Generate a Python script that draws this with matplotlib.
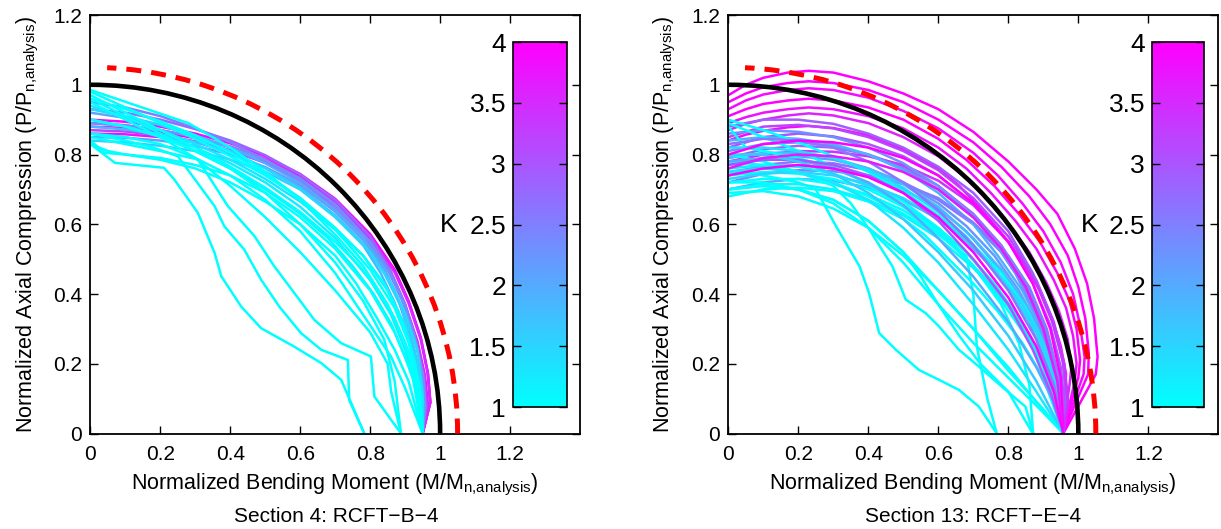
import numpy as np
import matplotlib
matplotlib.use('Agg')
import matplotlib.pyplot as plt
from matplotlib import cm, colors
from matplotlib.patches import Arc

plt.rcParams['font.family'] = ['Liberation Sans', 'DejaVu Sans']

# reference interaction curves: black solid circle, red dashed circle
ref_radius = 1.0
lim_radius = 1.05
lim_start_deg = 87.4

# Section 4: RCFT-B-4
left_k = [4.0, 3.9, 3.8, 3.5, 3.2, 2.8, 2.5, 2.2, 2.0, 1.8,
          1.0, 1.0, 1.1, 1.0, 1.0, 1.0, 1.0, 1.0, 1.0, 1.0,
          1.2, 1.3, 1.0, 1.5, 1.0, 1.0, 2.3, 1.6]
left_m = [
    [0, .1, .2, .3, .4, .5, .6, .7, .8, .87, .91, .945, .965, .972, .95],
    [0, .1, .2, .3, .4, .5, .6, .7, .8, .87, .91, .945, .965, .972, .95],
    [0, .1, .2, .3, .4, .5, .6, .7, .8, .86, .9, .935, .957, .965, .95],
    [0, .1, .2, .3, .4, .5, .6, .7, .8, .87, .91, .945, .965, .972, .95],
    [0, .1, .2, .3, .4, .5, .6, .7, .8, .86, .9, .935, .955, .962, .95],
    [0, .1, .2, .3, .4, .5, .6, .7, .8, .86, .9, .93, .95, .958, .95],
    [0, .1, .2, .3, .4, .5, .6, .7, .8, .85, .89, .925, .945, .955, .95],
    [0, .1, .2, .3, .4, .5, .6, .7, .78, .84, .88, .915, .94, .953, .95],
    [0, .1, .2, .3, .4, .5, .6, .7, .78, .84, .88, .915, .94, .953, .95],
    [0, .1, .2, .3, .4, .5, .6, .7, .78, .83, .87, .91, .935, .95, .95],
    [0, .1, .2, .3, .4, .5, .6, .7, .78, .84, .88, .915, .94, .95],
    [0, .1, .2, .3, .4, .5, .6, .7, .77, .83, .87, .91, .94, .95],
    [0, .1, .2, .3, .4, .5, .6, .68, .75, .81, .86, .9, .935, .95],
    [0, .05, .1, .2, .3, .4, .5, .6, .7, .76, .82, .87, .91, .95],
    [0, .07, .21, .24, .307, .355, .374, .431, .488, .583, .66, .717, .783],
    [0, .1, .18, .25, .355, .383, .44, .488, .54, .602, .66, .736, .74, .783],
    [0, .1, .2, .307, .393, .469, .526, .583, .64, .717, .802, .812, .888],
    [0, .1, .2, .3, .4, .5, .6, .7, .78, .84, .87, .888],
    [0, .1, .2, .3, .4, .5, .6, .7, .76, .82, .86, .9, .95],
    [0, .1, .2, .3, .4, .5, .6, .7, .8, .85, .86, .888],
    [0, .1, .2, .3, .4, .5, .6, .7, .8, .86, .9, .93, .95],
    [0, .1, .2, .3, .4, .5, .6, .7, .78, .85, .9, .93, .95, .95],
    [0, .1, .2, .3, .4, .5, .6, .7, .8, .87, .91, .94, .95],
    [0, .1, .2, .3, .4, .5, .6, .7, .8, .86, .9, .935, .95, .95],
    [0, .04, .1, .2, .3, .4, .5, .6, .7, .8, .87, .92, .95],
    [0, .28, .4, .5, .6, .7, .78, .85, .9, .93, .95],
    [0, .1, .2, .3, .4, .5, .6, .7, .8, .86, .9, .93, .952, .958, .95],
    [0, .1, .2, .3, .4, .5, .6, .7, .78, .84, .89, .925, .945, .95],
]
left_p = [
    [.88, .876, .864, .847, .822, .787, .737, .667, .567, .467, .377, .272, .172, .09, 0],
    [.90, .894, .88, .86, .832, .795, .744, .673, .572, .47, .38, .274, .174, .09, 0],
    [.86, .858, .85, .835, .812, .778, .728, .658, .555, .46, .37, .265, .165, .085, 0],
    [.89, .884, .87, .85, .823, .786, .735, .664, .562, .462, .373, .268, .17, .088, 0],
    [.87, .866, .855, .838, .812, .776, .725, .654, .55, .455, .365, .26, .16, .08, 0],
    [.93, .92, .9, .873, .84, .798, .743, .67, .565, .463, .37, .268, .165, .08, 0],
    [.95, .935, .91, .875, .835, .785, .725, .645, .54, .47, .385, .29, .19, .09, 0],
    [.85, .848, .84, .825, .8, .764, .712, .636, .555, .47, .385, .28, .18, .085, 0],
    [.92, .905, .885, .855, .82, .775, .718, .64, .56, .475, .385, .283, .18, .085, 0],
    [.88, .872, .858, .836, .805, .762, .705, .625, .54, .46, .375, .27, .17, .08, 0],
    [.98, .935, .89, .845, .795, .74, .675, .59, .51, .43, .35, .25, .14, 0],
    [.97, .92, .87, .82, .765, .705, .635, .55, .48, .4, .33, .235, .13, 0],
    [.96, .91, .86, .81, .76, .7, .63, .56, .48, .4, .315, .22, .12, 0],
    [.83, .81, .8, .785, .76, .72, .665, .6, .51, .43, .33, .24, .15, 0],
    [.83, .776, .762, .728, .633, .518, .451, .364, .302, .249, .202, .154, 0],
    [.86, .84, .82, .795, .652, .594, .527, .441, .364, .288, .24, .211, .096, 0],
    [.85, .83, .81, .786, .652, .566, .479, .403, .326, .259, .221, .106, 0],
    [.9, .88, .85, .81, .76, .69, .6, .49, .38, .27, .15, 0],
    [.86, .85, .83, .79, .74, .67, .58, .46, .37, .28, .22, .13, 0],
    [.95, .9, .85, .79, .71, .62, .52, .41, .29, .2, .12, 0],
    [.9, .88, .855, .82, .775, .72, .65, .56, .44, .34, .24, .14, 0],
    [.94, .905, .87, .83, .785, .73, .665, .585, .51, .41, .31, .2, .1, 0],
    [.96, .93, .895, .855, .805, .745, .675, .585, .47, .36, .26, .14, 0],
    [.93, .91, .885, .85, .81, .76, .7, .62, .52, .43, .345, .24, .12, 0],
    [.84, .805, .8, .79, .77, .74, .69, .62, .53, .41, .29, .17, 0],
    [.985, .89, .82, .75, .67, .57, .48, .37, .26, .15, 0],
    [.89, .883, .87, .85, .822, .784, .731, .657, .55, .455, .365, .265, .165, .08, 0],
    [.84, .835, .825, .81, .785, .75, .7, .625, .545, .46, .36, .25, .13, 0],
]

# Section 13: RCFT-E-4 (drawn in list order)
right_k = [4.0, 4.0, 3.9, 4.0, 3.8, 3.6, 3.9,
           3.2, 3.0, 2.8, 2.9, 3.4, 2.6,
           2.4, 2.2, 2.0, 1.9, 2.5, 2.1, 1.8, 2.3,
           1.0, 1.0, 1.0, 1.0, 1.0, 1.0, 1.0, 1.2, 1.4, 1.0, 1.0, 1.1, 1.5,
           1.0, 1.3, 2.0, 3.0, 1.0, 1.6, 2.6, 1.0, 1.0,
           4.0, 3.7, 4.0]
right_m = [
    [0, .05, .1, .17, .23, .3, .4, .5, .6, .7, .8, .88, .94, .99, 1.025, 1.045, 1.055, 1.05, .957],
    [0, .05, .1, .17, .23, .3, .4, .5, .6, .7, .78, .86, .92, .97, 1.0, 1.02, 1.03, 1.028, .955],
    [0, .05, .1, .17, .23, .3, .4, .5, .6, .7, .77, .84, .9, .95, .985, 1.005, 1.018, 1.015, .955],
    [0, .05, .1, .17, .23, .3, .4, .5, .6, .68, .76, .83, .89, .94, .975, .995, 1.005, 1.0, .955],
    [0, .05, .1, .17, .23, .3, .4, .5, .6, .68, .75, .82, .88, .93, .965, .985, .995, .99, .955],
    [0, .05, .1, .17, .23, .3, .4, .5, .6, .67, .74, .8, .86, .91, .945, .97, .98, .975, .955],
    [0, .05, .1, .17, .23, .3, .4, .5, .6, .66, .72, .78, .84, .89, .925, .95, .965, .962, .955],
    [0, .1, .2, .3, .4, .5, .6, .7, .8, .88, .93, .96, .97, .957],
    [0, .1, .2, .3, .4, .5, .6, .7, .8, .87, .92, .95, .96, .957],
    [0, .1, .2, .3, .4, .5, .6, .7, .78, .85, .9, .94, .957],
    [0, .1, .2, .3, .4, .5, .6, .7, .8, .87, .92, .955, .965, .957],
    [0, .1, .2, .3, .4, .5, .6, .7, .8, .88, .93, .96, .97, .957],
    [0, .1, .2, .3, .4, .5, .6, .7, .78, .84, .89, .93, .957],
    [0, .1, .2, .3, .4, .5, .6, .7, .78, .85, .9, .94, .957],
    [0, .1, .2, .3, .4, .5, .6, .68, .76, .83, .89, .93, .957],
    [0, .1, .2, .3, .4, .5, .6, .68, .75, .82, .88, .93, .957],
    [0, .1, .2, .3, .4, .5, .6, .7, .77, .84, .9, .94, .957],
    [0, .1, .2, .3, .4, .5, .6, .7, .8, .86, .91, .945, .957],
    [0, .1, .2, .3, .4, .5, .6, .66, .74, .8, .86, .92, .957],
    [0, .1, .2, .3, .4, .5, .6, .7, .78, .85, .9, .94, .957],
    [0, .1, .2, .3, .4, .5, .6, .7, .76, .82, .88, .93, .957],
    [0, .1, .2, .3, .4, .5, .6, .7, .78, .85, .9, .94, .957],
    [0, .1, .2, .3, .4, .5, .6, .68, .75, .81, .87, .92, .957],
    [0, .05, .1, .2, .3, .4, .5, .6, .68, .76, .83, .9, .957],
    [0, .1, .2, .3, .4, .5, .6, .66, .72, .78, .85, .9, .957],
    [0, .1, .2, .3, .4, .5, .56, .62, .7, .77, .84, .9, .957],
    [0, .1, .2, .25, .308, .375, .402, .431, .479, .545, .602, .659, .716, .767],
    [0, .1, .2, .3, .35, .403, .469, .507, .564, .602, .659, .716, .782, .849, .871],
    [0, .1, .2, .3, .4, .5, .58, .65, .72, .79, .86, .91, .957],
    [0, .1, .2, .3, .4, .5, .6, .68, .75, .82, .88, .93, .957],
    [0, .1, .2, .3, .4, .5, .6, .68, .7, .71, .74, .767],
    [0, .1, .2, .3, .4, .5, .6, .7, .78, .83, .86, .871],
    [0, .1, .2, .3, .4, .5, .6, .7, .78, .85, .91, .957],
    [0, .1, .2, .3, .4, .5, .6, .7, .77, .84, .9, .94, .957],
    [0, .1, .2, .3, .4, .5, .6, .7, .8, .88, .957],
    [0, .1, .2, .3, .4, .5, .6, .7, .8, .88, .957],
    [0, .1, .2, .3, .4, .5, .6, .7, .8, .88, .93, .957],
    [0, .1, .2, .3, .4, .5, .6, .7, .8, .87, .92, .957],
    [0, .1, .2, .3, .4, .5, .6, .7, .8, .9, .957],
    [0, .1, .2, .3, .4, .5, .6, .7, .8, .88, .957],
    [0, .1, .2, .3, .4, .5, .6, .7, .8, .88, .93, .957],
    [0, .1, .2, .3, .4, .5, .6, .7, .8, .9, .957],
    [0, .1, .2, .3, .4, .5, .55, .6, .66, .72, .8, .87],
    [0, .1, .2, .3, .4, .5, .6, .7, .8, .87, .92, .95, .957],
    [0, .1, .2, .3, .4, .5, .6, .7, .78, .85, .9, .94, .957],
    [0, .1, .2, .3, .4, .5, .6, .7, .8, .88, .93, .957],
]
right_p = [
    [.97, 1.0, 1.02, 1.035, 1.04, 1.035, 1.01, .975, .93, .865, .78, .7, .63, .53, .43, .33, .22, .17, 0],
    [.95, .975, .993, 1.005, 1.01, 1.005, .985, .95, .9, .835, .765, .68, .6, .51, .42, .33, .23, .17, 0],
    [.93, .955, .972, .985, .99, .985, .963, .925, .875, .805, .74, .66, .58, .49, .4, .31, .22, .17, 0],
    [.91, .93, .945, .955, .96, .955, .935, .9, .845, .785, .71, .63, .55, .46, .38, .3, .21, .16, 0],
    [.89, .907, .92, .93, .935, .93, .91, .875, .82, .76, .69, .61, .53, .44, .36, .28, .2, .15, 0],
    [.87, .888, .9, .912, .918, .912, .89, .85, .795, .74, .67, .6, .52, .43, .35, .27, .19, .14, 0],
    [.84, .857, .868, .878, .882, .876, .855, .815, .76, .71, .645, .575, .495, .41, .33, .25, .17, .12, 0],
    [.85, .88, .885, .875, .85, .81, .755, .675, .565, .44, .32, .2, .1, 0],
    [.82, .85, .86, .852, .83, .795, .74, .66, .55, .43, .31, .19, .09, 0],
    [.79, .815, .825, .82, .8, .765, .71, .63, .54, .43, .31, .16, 0],
    [.88, .9, .9, .888, .86, .82, .765, .69, .58, .46, .34, .21, .1, 0],
    [.78, .8, .81, .808, .795, .77, .725, .655, .55, .43, .31, .19, .09, 0],
    [.74, .77, .78, .775, .755, .72, .67, .6, .52, .43, .32, .18, 0],
    [.81, .83, .835, .825, .8, .76, .7, .62, .535, .43, .32, .17, 0],
    [.77, .79, .795, .785, .76, .72, .66, .595, .51, .41, .3, .17, 0],
    [.75, .765, .77, .76, .74, .7, .645, .58, .5, .41, .3, .16, 0],
    [.84, .85, .845, .83, .8, .755, .69, .6, .51, .41, .29, .15, 0],
    [.72, .745, .755, .752, .74, .715, .675, .605, .51, .42, .3, .16, 0],
    [.7, .72, .73, .725, .705, .67, .615, .57, .49, .42, .32, .17, 0],
    [.79, .805, .805, .79, .76, .715, .65, .56, .47, .37, .27, .14, 0],
    [.86, .87, .865, .85, .82, .775, .71, .625, .55, .46, .34, .19, 0],
    [.9, .87, .835, .795, .75, .695, .625, .54, .46, .36, .26, .14, 0],
    [.89, .85, .81, .765, .715, .655, .585, .52, .44, .36, .26, .15, 0],
    [.88, .82, .81, .79, .76, .72, .665, .59, .52, .43, .33, .19, 0],
    [.72, .73, .73, .715, .685, .64, .575, .52, .455, .38, .28, .19, 0],
    [.68, .7, .705, .695, .665, .615, .57, .51, .43, .35, .26, .16, 0],
    [.75, .74, .72, .7, .594, .479, .403, .288, .24, .182, .154, .125, .077, 0],
    [.8, .78, .75, .71, .66, .585, .479, .384, .345, .307, .24, .192, .134, .077, 0],
    [.76, .77, .765, .745, .71, .655, .6, .535, .46, .38, .28, .18, 0],
    [.82, .82, .81, .79, .755, .705, .635, .565, .48, .39, .29, .16, 0],
    [.78, .77, .75, .72, .68, .63, .57, .51, .4, .25, .1, 0],
    [.74, .75, .745, .73, .7, .65, .58, .48, .37, .26, .14, 0],
    [.7, .715, .715, .7, .67, .625, .56, .475, .39, .3, .19, 0],
    [.73, .745, .75, .74, .715, .675, .615, .535, .46, .37, .26, .14, 0],
    [.7, .71, .7, .67, .61, .52, .41, .3, .19, .09, 0],
    [.75, .76, .75, .72, .67, .59, .49, .37, .24, .12, 0],
    [.78, .79, .785, .76, .72, .655, .56, .45, .32, .19, .09, 0],
    [.77, .785, .785, .77, .74, .69, .61, .5, .37, .24, .12, 0],
    [.69, .695, .68, .645, .59, .51, .41, .3, .18, .07, 0],
    [.8, .8, .78, .745, .69, .615, .52, .41, .28, .15, 0],
    [.83, .845, .84, .82, .78, .72, .64, .54, .41, .27, .14, 0],
    [.72, .72, .7, .66, .59, .49, .37, .26, .16, .06, 0],
    [.7, .71, .7, .67, .61, .52, .45, .37, .28, .2, .12, 0],
    [.8, .83, .84, .835, .82, .79, .74, .66, .55, .43, .3, .16, 0],
    [.76, .79, .8, .795, .78, .75, .7, .62, .53, .42, .3, .15, 0],
    [.74, .76, .77, .76, .735, .69, .62, .52, .39, .25, .12, 0],
]

cmap = plt.get_cmap('cool')
norm = colors.Normalize(vmin=1, vmax=4)
tick_vals = [0, 0.2, 0.4, 0.6, 0.8, 1, 1.2]
tick_text = ['0', '0.2', '0.4', '0.6', '0.8', '1', '1.2']
k_ticks = [1, 1.5, 2, 2.5, 3, 3.5, 4]


def draw_panel(ax, cax, ks, ms, ps, order, title, title_x):
    for i in order:
        ax.plot(ms[i], ps[i], color=cmap(norm(ks[i])), lw=1.8,
                solid_joinstyle='round', solid_capstyle='round')
    ax.add_patch(Arc((0, 0), 2 * ref_radius, 2 * ref_radius, theta1=0, theta2=90,
                     color='black', lw=3.3, zorder=4))
    ax.add_patch(Arc((0, 0), 2 * lim_radius, 2 * lim_radius, theta1=0, theta2=lim_start_deg,
                     color='red', lw=3.6, linestyle=(0, (3.0, 2.0)), zorder=4))
    ax.set_xlim(0, 1.4)
    ax.set_ylim(0, 1.2)
    ax.set_xticks(tick_vals)
    ax.set_xticklabels(tick_text)
    ax.set_yticks(tick_vals)
    ax.set_yticklabels(tick_text)
    ax.tick_params(direction='in', top=True, right=True, length=6, width=1, labelsize=15)
    ax.tick_params(axis='x', pad=8)
    ax.tick_params(axis='y', pad=6)
    for s in ax.spines.values():
        s.set_linewidth(1.3)
    ax.set_xlabel(r'Normalized Bending Moment (M/M$_{\mathregular{n{,}analysis}}$)',
                  fontsize=15.5, labelpad=6)
    ax.set_ylabel(r'Normalized Axial Compression (P/P$_{\mathregular{n{,}analysis}}$)',
                  fontsize=15.5, labelpad=9)
    fig.text(title_x, 0.024, title, ha='center', va='center', fontsize=15)

    cb = plt.colorbar(cm.ScalarMappable(norm=norm, cmap=cmap), cax=cax)
    cb.set_ticks(k_ticks)
    cb.set_ticklabels(['1', '1.5', '2', '2.5', '3', '3.5', '4'])
    cax.yaxis.set_ticks_position('both')
    cax.tick_params(direction='in', length=6, width=1, labelleft=True, labelright=False,
                    labelsize=19, pad=5)
    cb.outline.set_linewidth(1.2)
    cax.text(-1.2, 0.5, 'K', transform=cax.transAxes, ha='center', va='center', fontsize=19)


fig = plt.figure(figsize=(12.21, 5.29), dpi=100)
ax1 = fig.add_axes([0.0741, 0.1805, 0.4009, 0.7911])
ax2 = fig.add_axes([0.5965, 0.1805, 0.4013, 0.7911])
cax1 = fig.add_axes([0.4201, 0.2306, 0.0442, 0.690])
cax2 = fig.add_axes([0.9435, 0.2306, 0.0426, 0.690])

left_order = np.argsort(left_k, kind='stable')[::-1]  # magenta first, cyan on top
right_order = range(len(right_k))
draw_panel(ax1, cax1, left_k, left_m, left_p, left_order, 'Section 4: RCFT\u2212B\u22124', 0.275)
draw_panel(ax2, cax2, right_k, right_m, right_p, right_order, 'Section 13: RCFT\u2212E\u22124', 0.797)

fig.savefig('out.png', dpi=100)
